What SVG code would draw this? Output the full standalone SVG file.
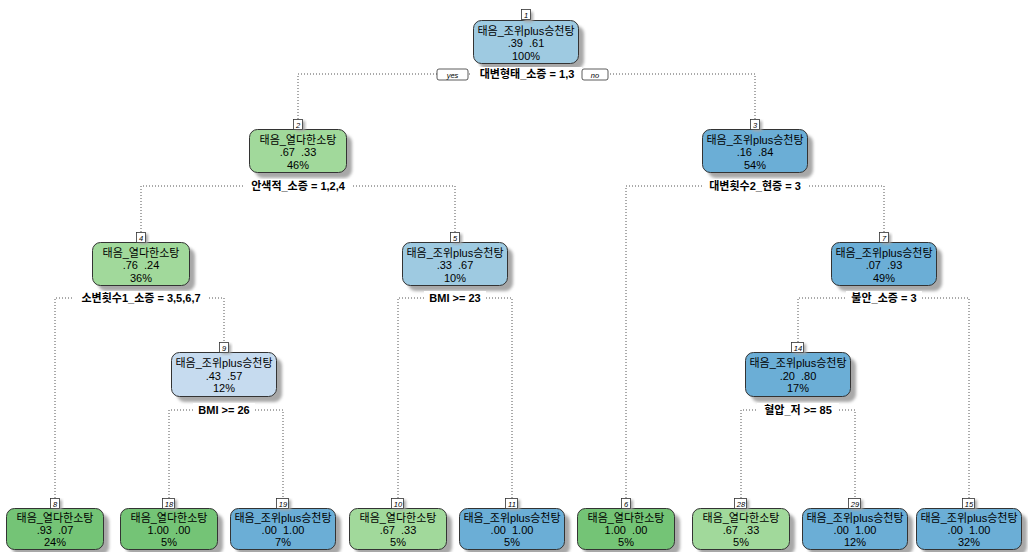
<svg xmlns="http://www.w3.org/2000/svg" width="1028" height="552" viewBox="0 0 1028 552">
<style>
text{font-family:"Liberation Sans","Noto Sans CJK KR",sans-serif;fill:#000;white-space:pre}
.t{font-size:11px;text-anchor:middle}
.s{font-size:11px;font-weight:bold;text-anchor:middle}
.n{font-size:7.5px;font-style:italic;text-anchor:middle}
.yn{font-size:7.5px;font-style:italic;text-anchor:middle}
.box{stroke:#333;stroke-width:1}
.sh{fill:#a8a8a8;filter:url(#blur)}
.nb{fill:#fff;stroke:#333;stroke-width:0.8}
.b0{fill:#C6DBEF}.b1{fill:#9ECAE1}.b2{fill:#6BAED6}
.g1{fill:#A1D99B}.g2{fill:#74C476}
.ln{fill:none;stroke:#555;stroke-width:1;stroke-dasharray:1 2}
.wb{fill:#fff}
</style>
<defs>
<filter id="blur" x="-20%" y="-20%" width="140%" height="140%"><feGaussianBlur stdDeviation="1.5"/></filter>
</defs>
<rect width="1028" height="552" fill="#fff"/>
<g id="connectors">
<path class="ln" d="M298,119 V74 H755 V119"/>
<path class="ln" d="M141,232 V186 H455 V232"/>
<path class="ln" d="M626,498 V186 H884 V232"/>
<path class="ln" d="M55,498 V298 H224 V342"/>
<path class="ln" d="M398,498 V298 H512 V498"/>
<path class="ln" d="M798,342 V298 H969 V498"/>
<path class="ln" d="M169,498 V410 H283 V498"/>
<path class="ln" d="M741,498 V410 H855 V498"/>
</g>
<g id="node1">
<rect class="sh" x="479" y="26" width="105" height="43" rx="8"/>
<rect class="box b1" x="473.5" y="20.5" width="105" height="43" rx="8"/>
<rect class="sh" x="524" y="12" width="9" height="10"/>
<rect class="nb" x="521.5" y="9.5" width="9" height="10"/>
<text class="n" x="526" y="17.5">1</text>
<text class="t" x="526" y="34.5">태음_조위plus승천탕</text>
<text class="t" x="526" y="47">.39  .61</text>
<text class="t" x="526" y="59.5">100%</text>
</g>
<g id="node2">
<rect class="sh" x="255" y="135" width="97" height="43" rx="8"/>
<rect class="box g1" x="249.5" y="129.5" width="97" height="43" rx="8"/>
<rect class="sh" x="296" y="121" width="9" height="10"/>
<rect class="nb" x="293.5" y="119.5" width="9" height="10"/>
<text class="n" x="298" y="127.5">2</text>
<text class="t" x="298" y="143.5">태음_열다한소탕</text>
<text class="t" x="298" y="156">.67  .33</text>
<text class="t" x="298" y="168.5">46%</text>
</g>
<g id="node3">
<rect class="sh" x="708" y="135" width="105" height="43" rx="8"/>
<rect class="box b2" x="702.5" y="129.5" width="105" height="43" rx="8"/>
<rect class="sh" x="753" y="121" width="9" height="10"/>
<rect class="nb" x="750.5" y="119.5" width="9" height="10"/>
<text class="n" x="755" y="127.5">3</text>
<text class="t" x="755" y="143.5">태음_조위plus승천탕</text>
<text class="t" x="755" y="156">.16  .84</text>
<text class="t" x="755" y="168.5">54%</text>
</g>
<g id="node4">
<rect class="sh" x="98" y="248" width="97" height="43" rx="8"/>
<rect class="box g1" x="92.5" y="242.5" width="97" height="43" rx="8"/>
<rect class="sh" x="139" y="234" width="9" height="10"/>
<rect class="nb" x="136.5" y="232.5" width="9" height="10"/>
<text class="n" x="141" y="240.5">4</text>
<text class="t" x="141" y="256.5">태음_열다한소탕</text>
<text class="t" x="141" y="269">.76  .24</text>
<text class="t" x="141" y="281.5">36%</text>
</g>
<g id="node5">
<rect class="sh" x="408" y="248" width="105" height="43" rx="8"/>
<rect class="box b1" x="402.5" y="242.5" width="105" height="43" rx="8"/>
<rect class="sh" x="453" y="234" width="9" height="10"/>
<rect class="nb" x="450.5" y="232.5" width="9" height="10"/>
<text class="n" x="455" y="240.5">5</text>
<text class="t" x="455" y="256.5">태음_조위plus승천탕</text>
<text class="t" x="455" y="269">.33  .67</text>
<text class="t" x="455" y="281.5">10%</text>
</g>
<g id="node7">
<rect class="sh" x="837" y="248" width="105" height="43" rx="8"/>
<rect class="box b2" x="831.5" y="242.5" width="105" height="43" rx="8"/>
<rect class="sh" x="882" y="234" width="9" height="10"/>
<rect class="nb" x="879.5" y="232.5" width="9" height="10"/>
<text class="n" x="884" y="240.5">7</text>
<text class="t" x="884" y="256.5">태음_조위plus승천탕</text>
<text class="t" x="884" y="269">.07  .93</text>
<text class="t" x="884" y="281.5">49%</text>
</g>
<g id="node9">
<rect class="sh" x="177" y="358" width="105" height="44" rx="8"/>
<rect class="box b0" x="171.5" y="352.5" width="105" height="44" rx="8"/>
<rect class="sh" x="222" y="344" width="9" height="10"/>
<rect class="nb" x="219.5" y="342.5" width="9" height="10"/>
<text class="n" x="224" y="350.5">9</text>
<text class="t" x="224" y="366.5">태음_조위plus승천탕</text>
<text class="t" x="224" y="379.5">.43  .57</text>
<text class="t" x="224" y="392">12%</text>
</g>
<g id="node14">
<rect class="sh" x="751" y="358" width="105" height="44" rx="8"/>
<rect class="box b2" x="745.5" y="352.5" width="105" height="44" rx="8"/>
<rect class="sh" x="794" y="344" width="12" height="10"/>
<rect class="nb" x="791.5" y="342.5" width="12" height="10"/>
<text class="n" x="798" y="350.5">14</text>
<text class="t" x="798" y="366.5">태음_조위plus승천탕</text>
<text class="t" x="798" y="379.5">.20  .80</text>
<text class="t" x="798" y="392">17%</text>
</g>
<g id="node8">
<rect class="sh" x="12" y="514" width="97" height="41" rx="8"/>
<rect class="box g2" x="6.5" y="508.5" width="97" height="41" rx="8"/>
<rect class="sh" x="53" y="500" width="9" height="10"/>
<rect class="nb" x="50.5" y="498.5" width="9" height="10"/>
<text class="n" x="55" y="506.5">8</text>
<text class="t" x="55" y="521.5">태음_열다한소탕</text>
<text class="t" x="55" y="533.5">.93  .07</text>
<text class="t" x="55" y="545.5">24%</text>
</g>
<g id="node18">
<rect class="sh" x="126" y="514" width="97" height="41" rx="8"/>
<rect class="box g2" x="120.5" y="508.5" width="97" height="41" rx="8"/>
<rect class="sh" x="165" y="500" width="12" height="10"/>
<rect class="nb" x="162.5" y="498.5" width="12" height="10"/>
<text class="n" x="169" y="506.5">18</text>
<text class="t" x="169" y="521.5">태음_열다한소탕</text>
<text class="t" x="169" y="533.5">1.00  .00</text>
<text class="t" x="169" y="545.5">5%</text>
</g>
<g id="node19">
<rect class="sh" x="236" y="514" width="105" height="41" rx="8"/>
<rect class="box b2" x="230.5" y="508.5" width="105" height="41" rx="8"/>
<rect class="sh" x="279" y="500" width="12" height="10"/>
<rect class="nb" x="276.5" y="498.5" width="12" height="10"/>
<text class="n" x="283" y="506.5">19</text>
<text class="t" x="283" y="521.5">태음_조위plus승천탕</text>
<text class="t" x="283" y="533.5">.00  1.00</text>
<text class="t" x="283" y="545.5">7%</text>
</g>
<g id="node10">
<rect class="sh" x="355" y="514" width="97" height="41" rx="8"/>
<rect class="box g1" x="349.5" y="508.5" width="97" height="41" rx="8"/>
<rect class="sh" x="394" y="500" width="12" height="10"/>
<rect class="nb" x="391.5" y="498.5" width="12" height="10"/>
<text class="n" x="398" y="506.5">10</text>
<text class="t" x="398" y="521.5">태음_열다한소탕</text>
<text class="t" x="398" y="533.5">.67  .33</text>
<text class="t" x="398" y="545.5">5%</text>
</g>
<g id="node11">
<rect class="sh" x="465" y="514" width="105" height="41" rx="8"/>
<rect class="box b2" x="459.5" y="508.5" width="105" height="41" rx="8"/>
<rect class="sh" x="508" y="500" width="12" height="10"/>
<rect class="nb" x="505.5" y="498.5" width="12" height="10"/>
<text class="n" x="512" y="506.5">11</text>
<text class="t" x="512" y="521.5">태음_조위plus승천탕</text>
<text class="t" x="512" y="533.5">.00  1.00</text>
<text class="t" x="512" y="545.5">5%</text>
</g>
<g id="node6">
<rect class="sh" x="583" y="514" width="97" height="41" rx="8"/>
<rect class="box g2" x="577.5" y="508.5" width="97" height="41" rx="8"/>
<rect class="sh" x="624" y="500" width="9" height="10"/>
<rect class="nb" x="621.5" y="498.5" width="9" height="10"/>
<text class="n" x="626" y="506.5">6</text>
<text class="t" x="626" y="521.5">태음_열다한소탕</text>
<text class="t" x="626" y="533.5">1.00  .00</text>
<text class="t" x="626" y="545.5">5%</text>
</g>
<g id="node28">
<rect class="sh" x="698" y="514" width="97" height="41" rx="8"/>
<rect class="box g1" x="692.5" y="508.5" width="97" height="41" rx="8"/>
<rect class="sh" x="737" y="500" width="12" height="10"/>
<rect class="nb" x="734.5" y="498.5" width="12" height="10"/>
<text class="n" x="741" y="506.5">28</text>
<text class="t" x="741" y="521.5">태음_열다한소탕</text>
<text class="t" x="741" y="533.5">.67  .33</text>
<text class="t" x="741" y="545.5">5%</text>
</g>
<g id="node29">
<rect class="sh" x="808" y="514" width="105" height="41" rx="8"/>
<rect class="box b2" x="802.5" y="508.5" width="105" height="41" rx="8"/>
<rect class="sh" x="851" y="500" width="12" height="10"/>
<rect class="nb" x="848.5" y="498.5" width="12" height="10"/>
<text class="n" x="855" y="506.5">29</text>
<text class="t" x="855" y="521.5">태음_조위plus승천탕</text>
<text class="t" x="855" y="533.5">.00  1.00</text>
<text class="t" x="855" y="545.5">12%</text>
</g>
<g id="node15">
<rect class="sh" x="922" y="514" width="105" height="41" rx="8"/>
<rect class="box b2" x="916.5" y="508.5" width="105" height="41" rx="8"/>
<rect class="sh" x="965" y="500" width="12" height="10"/>
<rect class="nb" x="962.5" y="498.5" width="12" height="10"/>
<text class="n" x="969" y="506.5">15</text>
<text class="t" x="969" y="521.5">태음_조위plus승천탕</text>
<text class="t" x="969" y="533.5">.00  1.00</text>
<text class="t" x="969" y="545.5">32%</text>
</g>
<g id="splits">
<rect class="wb" x="470" y="67" width="112" height="14"/>
<text class="s" x="527" y="78">대변형태_소증 = 1,3</text>
<rect class="wb" x="437" y="69" width="31" height="11" rx="2" stroke="#333" stroke-width="0.8"/>
<text class="yn" x="452.5" y="77.5">yes</text>
<rect class="wb" x="582" y="69" width="26" height="11" rx="2" stroke="#333" stroke-width="0.8"/>
<text class="yn" x="595" y="77.5">no</text>
<rect class="wb" x="244" y="179" width="108" height="14"/>
<text class="s" x="298" y="190">안색적_소증 = 1,2,4</text>
<rect class="wb" x="702" y="179" width="106" height="14"/>
<text class="s" x="755" y="190">대변횟수2_현증 = 3</text>
<rect class="wb" x="74" y="291" width="134" height="14"/>
<text class="s" x="141" y="302">소변횟수1_소증 = 3,5,6,7</text>
<rect class="wb" x="424" y="291" width="62" height="14"/>
<text class="s" x="455" y="302">BMI &gt;= 23</text>
<rect class="wb" x="846" y="291" width="76" height="14"/>
<text class="s" x="884" y="302">불안_소증 = 3</text>
<rect class="wb" x="193" y="403" width="62" height="14"/>
<text class="s" x="224" y="414">BMI &gt;= 26</text>
<rect class="wb" x="757" y="403" width="82" height="14"/>
<text class="s" x="798" y="414">혈압_저 &gt;= 85</text>
</g>
</svg>
